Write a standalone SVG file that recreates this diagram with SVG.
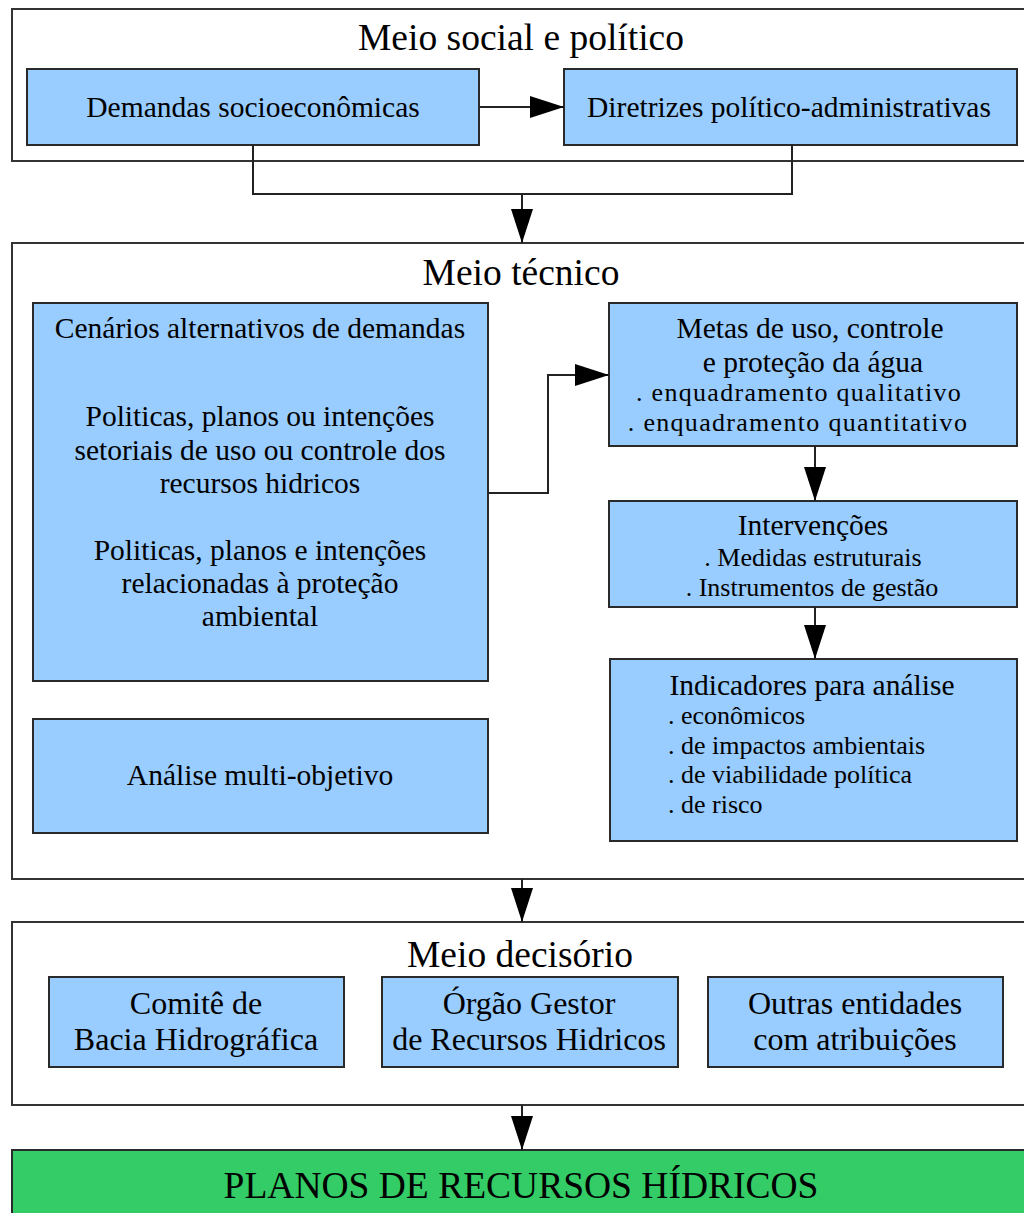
<svg xmlns="http://www.w3.org/2000/svg" width="1024" height="1213" viewBox="0 0 1024 1213" font-family="'Liberation Serif', 'Times New Roman', serif">
<style>
  .frame { fill: #ffffff; stroke: #333333; stroke-width: 2; }
  .box { fill: #99CCFF; stroke: #2a2a2a; stroke-width: 2; }
  .final { fill: #33CC66; stroke: #2a2a2a; stroke-width: 2; }
  text { font-family: 'Liberation Serif', 'Times New Roman', serif; fill: #000000; }
  .title { font-size: 37.5px; text-anchor: middle; }
  .t { font-size: 29.5px; text-anchor: middle; }
  .s { font-size: 26px; text-anchor: middle; }
  .sq { font-size: 26px; text-anchor: middle; letter-spacing: 1.3px; }
  .sl { font-size: 26px; text-anchor: start; }
  .d { font-size: 32px; text-anchor: middle; }
  .conn { fill: none; stroke: #222222; stroke-width: 2; }
</style>
<defs>
  <marker id="arrow" markerUnits="userSpaceOnUse" markerWidth="34" markerHeight="22" refX="34" refY="11" orient="auto">
    <path d="M0,0 L34,11 L0,22 z" fill="#000000"/>
  </marker>
</defs>
<rect width="1024" height="1213" fill="#ffffff"/>

<g id="meio-social">
  <rect class="frame" x="12" y="9" width="1030" height="152"/>
  <text class="title" x="521" y="50">Meio social e político</text>
</g>
<g id="demandas">
  <rect class="box" x="27" y="69" width="452" height="76"/>
  <text class="t" x="253" y="117">Demandas socioeconômicas</text>
</g>
<g id="diretrizes">
  <rect class="box" x="564" y="69" width="453" height="76"/>
  <text class="t" x="789" y="117">Diretrizes político-administrativas</text>
</g>

<g id="meio-tecnico">
  <rect class="frame" x="12" y="243" width="1030" height="636"/>
  <text class="title" x="521" y="285">Meio técnico</text>
</g>
<g id="cenarios">
  <rect class="box" x="33" y="303" width="455" height="378"/>
  <text class="t" x="260" y="338">Cenários alternativos de demandas</text>
  <text class="t" x="260" y="426">Politicas, planos ou intenções</text>
  <text class="t" x="260" y="460">setoriais de uso ou controle dos</text>
  <text class="t" x="260" y="493">recursos hidricos</text>
  <text class="t" x="260" y="560">Politicas, planos e intenções</text>
  <text class="t" x="260" y="593">relacionadas à proteção</text>
  <text class="t" x="260" y="626">ambiental</text>
</g>
<g id="analise">
  <rect class="box" x="33" y="719" width="455" height="114"/>
  <text class="t" x="260" y="785">Análise multi-objetivo</text>
</g>
<g id="metas">
  <rect class="box" x="609" y="303" width="408" height="143"/>
  <text class="t" x="810" y="338">Metas de uso, controle</text>
  <text class="t" x="813" y="372">e proteção da água</text>
  <text class="sq" x="799" y="401">. enquadramento qualitativo</text>
  <text class="sq" x="798" y="431">. enquadramento quantitativo</text>
</g>
<g id="intervencoes">
  <rect class="box" x="609" y="501" width="408" height="106"/>
  <text class="t" x="813" y="535">Intervenções</text>
  <text class="s" x="813" y="566">. Medidas estruturais</text>
  <text class="s" x="812" y="596">. Instrumentos de gestão</text>
</g>
<g id="indicadores">
  <rect class="box" x="610" y="659" width="407" height="182"/>
  <text class="t" x="812" y="695">Indicadores para análise</text>
  <text class="sl" x="668" y="724">. econômicos</text>
  <text class="sl" x="668" y="754">. de impactos ambientais</text>
  <text class="sl" x="668" y="783">. de viabilidade política</text>
  <text class="sl" x="668" y="813">. de risco</text>
</g>

<g id="meio-decisorio">
  <rect class="frame" x="12" y="922" width="1030" height="183"/>
  <text class="title" x="520" y="967">Meio decisório</text>
</g>
<g id="comite">
  <rect class="box" x="49" y="977" width="295" height="90"/>
  <text class="d" x="196" y="1014">Comitê de</text>
  <text class="d" x="196" y="1050">Bacia Hidrográfica</text>
</g>
<g id="orgao">
  <rect class="box" x="382" y="977" width="296" height="90"/>
  <text class="d" x="529" y="1014">Órgão Gestor</text>
  <text class="d" x="529" y="1050">de Recursos Hidricos</text>
</g>
<g id="outras">
  <rect class="box" x="708" y="977" width="295" height="90"/>
  <text class="d" x="855" y="1014">Outras entidades</text>
  <text class="d" x="855" y="1050">com atribuições</text>
</g>

<g id="planos">
  <rect class="final" x="12" y="1150" width="1030" height="80"/>
  <text class="title" x="521" y="1198">PLANOS DE RECURSOS HÍDRICOS</text>
</g>

<g id="connectors">
  <path class="conn" d="M479,107 H564" marker-end="url(#arrow)"/>
  <path class="conn" d="M253,145 V194 H792 V145"/>
  <path class="conn" d="M522,194 V243" marker-end="url(#arrow)"/>
  <path class="conn" d="M488,493 H548 V375 H609" marker-end="url(#arrow)"/>
  <path class="conn" d="M815,446 V501" marker-end="url(#arrow)"/>
  <path class="conn" d="M815,607 V659" marker-end="url(#arrow)"/>
  <path class="conn" d="M522,879 V922" marker-end="url(#arrow)"/>
  <path class="conn" d="M522,1105 V1150" marker-end="url(#arrow)"/>
</g>
</svg>
